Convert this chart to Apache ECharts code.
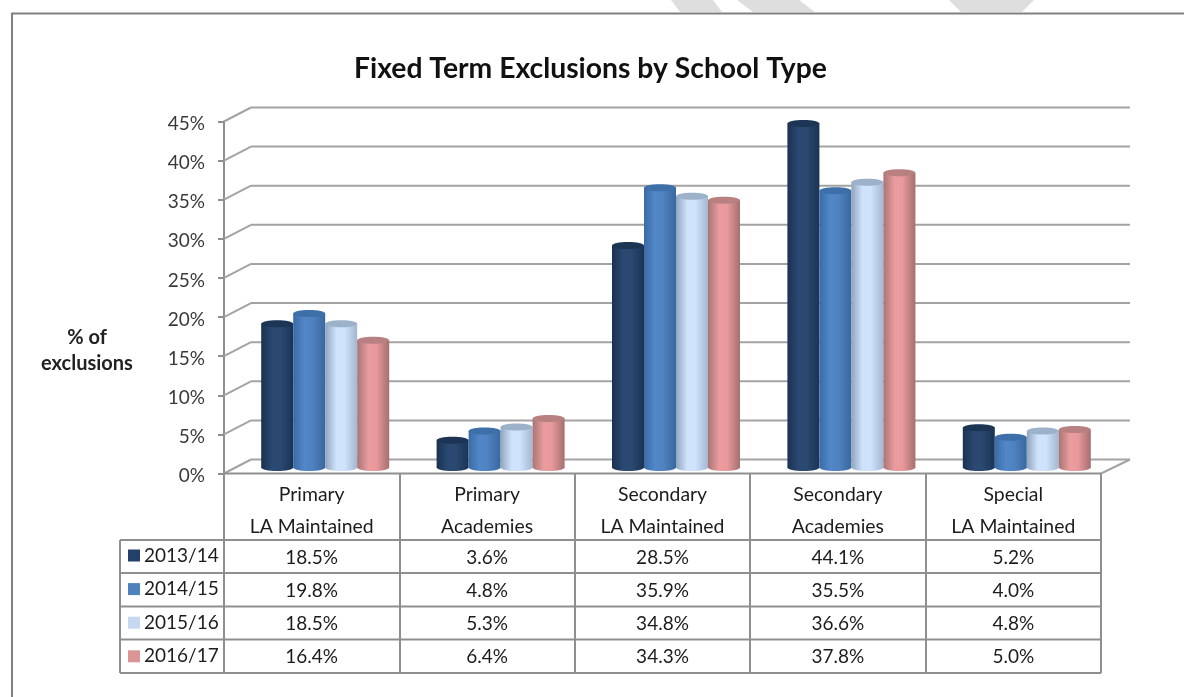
<!DOCTYPE html>
<html><head><meta charset="utf-8">
<style>html,body{margin:0;padding:0;background:#fff}#c{width:1184px;height:697px}</style>
<script src="https://cdn.jsdelivr.net/npm/echarts@6/dist/echarts.min.js"></script>
</head><body><div id="c"></div>
<script>
const categories = ['Primary\nLA Maintained','Primary\nAcademies','Secondary\nLA Maintained','Secondary\nAcademies','Special\nLA Maintained'];
const s1314 = [18.5,3.6,28.5,44.1,5.2];
const s1415 = [19.8,4.8,35.9,35.5,4.0];
const s1516 = [18.5,5.3,34.8,36.6,4.8];
const s1617 = [16.4,6.4,34.3,37.8,5.0];
const seriesNames = ['2013/14','2014/15','2015/16','2016/17'];
const seriesValues = [s1314,s1415,s1516,s1617];
const ticks = [0,5,10,15,20,25,30,35,40,45];
const swatches = ['#234068','#4f81bd','#c6d9f1','#d99694'];
const bodyStops = [
  ['#1a3252','#2a4870','#2a4870','#1b3455'],
  ['#3a6ba6','#5287c8','#4f82c0','#39689f'],
  ['#8fa4bd','#cfe3fc','#cfe3fc','#a3b7d0'],
  ['#a87576','#ea9c9e','#e8999b','#a56f70']
];
const topColors = ['#1c3555','#3d6fa9','#9cb1ca','#b98081'];
const FONT = 'Lato, "Open Sans", sans-serif';
const LINE = '#a3a3a3', TBL = '#8f8f8f';
const DX = 27, DY = -14;            // depth of the pseudo-3D wall
const BAR_W = 32, BAR_DX = 13.5, TOP_DY = -5, BASE_DY = -6, ELL = 3.5;
const ROW_Y = [540,573,606.5,639.5,673];
const COL_X = [224,400,575,750,926,1101];

function cyl(si){
  return function(params, api){
    const cat = api.value(0), v = api.value(1);
    const top = api.coord([cat, v]), base = api.coord([cat, 0]);
    const x = top[0] + BAR_DX + (si-2)*BAR_W, yT = top[1]+TOP_DY, yB = base[1]+BASE_DY;
    const cs = bodyStops[si];
    const grad = {type:'linear',x:0,y:0,x2:1,y2:0,colorStops:[
      {offset:0,color:cs[0]},{offset:.35,color:cs[1]},{offset:.6,color:cs[2]},{offset:1,color:cs[3]}]};
    const r = BAR_W/2, cx = x + r;
    return {type:'group',children:[
      {type:'ellipse',shape:{cx:cx,cy:yB,rx:r,ry:ELL},style:{fill:grad}},
      {type:'rect',shape:{x:x,y:yT,width:BAR_W,height:yB-yT},style:{fill:grad}},
      {type:'ellipse',shape:{cx:cx,cy:yT,rx:r,ry:ELL},style:{fill:topColors[si]}},
      {type:'text',style:{x:top[0],y:(ROW_Y[si]+ROW_Y[si+1])/2+1,text:v.toFixed(1)+'%',
        textAlign:'center',textVerticalAlign:'middle',font:'19px '+FONT,fill:'#1c1c1c'}}
    ]};
  };
}
const barSeries = seriesNames.map((n,si)=>({
  name:n,type:'custom',coordinateSystem:'cartesian2d',z:5,
  itemStyle:{color:swatches[si]},
  encode:{x:0,y:1},
  data:seriesValues[si].map((v,i)=>[i,v]),
  renderItem:cyl(si)
}));
const wallSeries = {
  type:'custom',coordinateSystem:'cartesian2d',z:1,silent:true,
  data:ticks.map(t=>[0,t]),encode:{x:0,y:1},
  renderItem(params,api){
    const y = api.coord([0,api.value(1)])[1];
    const g = params.coordSys, l=g.x, r=g.x+g.width;
    const ls = {stroke:LINE,lineWidth:2,fill:'none'};
    const kids = [
      {type:'line',shape:{x1:l,y1:y,x2:l+DX,y2:y+DY},style:ls},
      {type:'line',shape:{x1:l+DX,y1:y+DY,x2:r+DX+2,y2:y+DY},style:ls}
    ];
    if(api.value(1)===0) kids.push({type:'line',shape:{x1:r,y1:y,x2:r+DX+2,y2:y+DY},style:ls});
    return {type:'group',children:kids};
  }
};
const tableSeries = {
  type:'custom',coordinateSystem:'cartesian2d',z:2,silent:true,
  data:[[0,0]],encode:{x:0,y:1},
  renderItem(params,api){
    const ls = {stroke:TBL,lineWidth:2,fill:'none'}, kids=[];
    const yTop = params.coordSys.y+params.coordSys.height;
    COL_X.forEach(x=>kids.push({type:'line',shape:{x1:x,y1:yTop,x2:x,y2:ROW_Y[4]},style:ls}));
    kids.push({type:'line',shape:{x1:120,y1:ROW_Y[0],x2:120,y2:ROW_Y[4]},style:ls});
    kids.push({type:'line',shape:{x1:224,y1:yTop,x2:1101,y2:yTop},style:ls});
    ROW_Y.forEach(y=>kids.push({type:'line',shape:{x1:120,y1:y,x2:1101,y2:y},style:ls}));
    return {type:'group',children:kids};
  }
};
const stripe = pts=>({type:'polygon',silent:true,z:0,shape:{points:pts},style:{fill:'#dedede'}});
const chart = echarts.init(document.getElementById('c'));
chart.setOption({
  backgroundColor:'#fff',animation:false,
  title:[
    {text:'Fixed Term Exclusions by School Type',left:354,top:55,padding:0,
      textStyle:{fontFamily:FONT,fontSize:28.3,fontWeight:'bold',color:'#111'}},
    {text:'% of\nexclusions',left:87,top:325,padding:0,textAlign:'center',
      textStyle:{fontFamily:FONT,fontSize:20,fontWeight:'bold',color:'#222',lineHeight:26}}
  ],
  grid:{left:224,top:121.5,width:877,height:352,containLabel:false},
  legend:{data:seriesNames,orient:'vertical',left:128,top:546,padding:0,itemGap:14.6,itemWidth:12,itemHeight:12,
    icon:'rect',selectedMode:false,textStyle:{fontFamily:FONT,fontSize:19,color:'#1c1c1c',padding:[0,0,0,-1]}},
  xAxis:{type:'category',data:categories,
    axisLine:{show:false},axisTick:{show:false},
    axisLabel:{margin:5,lineHeight:32,fontFamily:FONT,fontSize:19.4,color:'#1c1c1c',interval:0}},
  yAxis:{type:'value',min:0,max:45,interval:5,splitLine:{show:false},
    axisLine:{show:true,lineStyle:{color:TBL,width:2}},
    axisTick:{show:true,length:6,lineStyle:{color:TBL,width:2}},
    axisLabel:{margin:19,verticalAlign:'top',lineHeight:5,formatter:'{value}%',fontFamily:FONT,fontSize:19,color:'#3a3a3a'}},
  series:[wallSeries,tableSeries,...barSeries],
  graphic:[
    stripe([[671,0],[713,0],[722,12],[680,12]]),
    stripe([[737,0],[799,0],[815,12],[753,12]]),
    stripe([[949,0],[1034,0],[1022,12],[961,12]]),
    {type:'polyline',silent:true,shape:{points:[[12,697],[12,13.5],[1184,13.5]]},style:{stroke:'#808080',lineWidth:2,fill:'none'}}
  ]
});
</script></body></html>
